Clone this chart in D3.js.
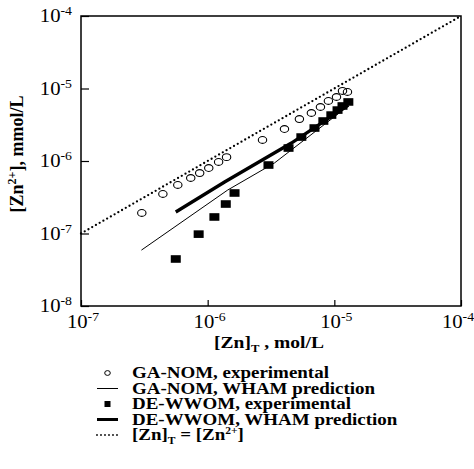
<!DOCTYPE html>
<html><head><meta charset="utf-8">
<script src="https://cdn.jsdelivr.net/npm/d3@7/dist/d3.min.js"></script>
<style>html,body{margin:0;padding:0;background:#fff}svg{display:block}</style>
</head><body>
<script>
// ---- data ----
const gaNomX = [3.02e-7, 4.43e-7, 5.81e-7, 7.35e-7, 8.65e-7, 1.02e-6, 1.22e-6, 1.41e-6, 2.71e-6, 4.04e-6, 5.30e-6, 6.59e-6, 7.77e-6, 8.98e-6, 1.04e-5, 1.16e-5, 1.27e-5];
const gaNomY = [1.92e-7, 3.51e-7, 4.67e-7, 5.83e-7, 6.82e-7, 8.0e-7, 9.7e-7, 1.13e-6, 1.95e-6, 2.76e-6, 3.79e-6, 4.59e-6, 5.56e-6, 6.73e-6, 7.64e-6, 9.25e-6, 8.96e-6];
const deWwomX = [5.60e-7, 8.49e-7, 1.13e-6, 1.39e-6, 1.63e-6, 3.02e-6, 4.35e-6, 5.49e-6, 6.97e-6, 8.19e-6, 9.47e-6, 1.06e-5, 1.16e-5, 1.29e-5];
const deWwomY = [4.45e-8, 9.8e-8, 1.69e-7, 2.55e-7, 3.62e-7, 8.8e-7, 1.51e-6, 2.14e-6, 2.85e-6, 3.56e-6, 4.30e-6, 5.04e-6, 5.74e-6, 6.52e-6];
const gaWhamX = [3.0e-7, 1.44e-6, 3.37e-6, 1.29e-5];
const gaWhamY = [5.9e-8, 3.98e-7, 9.4e-7, 5.74e-6];
const deWhamX = [5.6e-7, 1.36e-6, 4.58e-6, 1.29e-5];
const deWhamY = [1.98e-7, 5.13e-7, 1.77e-6, 5.9e-6];
const eqX = [1e-7, 1e-4];
const eqY = [1e-7, 1e-4];
const xTickExps = [-7, -6, -5, -4];
const yTickExps = [-8, -7, -6, -5, -4];
const legendLabels = ["GA-NOM, experimental", "GA-NOM, WHAM prediction", "DE-WWOM, experimental", "DE-WWOM, WHAM prediction"];

// ---- layout ----
const W = 474, H = 469;
const L = 81, T = 16, R = 461, B = 306;
const FONT = "'Liberation Serif','Times New Roman',serif";
const SX = 1.15; // horizontal stretch of the scanned figure's text

const svg = d3.select("body").append("svg").attr("width", W).attr("height", H);
const x = d3.scaleLog().domain([1e-7, 1e-4]).range([L, R]);
const y = d3.scaleLog().domain([1e-8, 1e-4]).range([B, T]);

// frame
svg.append("rect").attr("x", L).attr("y", T).attr("width", R - L).attr("height", B - T)
  .attr("fill", "none").attr("stroke", "#000").attr("stroke-width", 1.5);

// ticks
svg.append("g").attr("transform", `translate(0,${B})`)
  .call(d3.axisBottom(x).tickValues(xTickExps.map(e => Math.pow(10, e))).tickSize(-6).tickFormat(""))
  .call(g => { g.select(".domain").remove(); g.selectAll("line").attr("stroke", "#000").attr("stroke-width", 1.2); });
svg.append("g").attr("transform", `translate(${L},0)`)
  .call(d3.axisLeft(y).tickValues(yTickExps.map(e => Math.pow(10, e))).tickSize(-8).tickFormat(""))
  .call(g => { g.select(".domain").remove(); g.selectAll("line").attr("stroke", "#000").attr("stroke-width", 1.2); });

function powLabel(px, py, e, anchor) {
  const g = svg.append("g").attr("transform", `translate(${px},${py}) scale(${SX},1)`);
  const t = g.append("text").attr("font-family", FONT).attr("font-size", 18).attr("fill", "#000")
    .attr("text-anchor", anchor);
  t.append("tspan").text("10");
  t.append("tspan").attr("font-size", 12).attr("dy", -7).text(String(e));
}
xTickExps.forEach((e, i) => powLabel(x(Math.pow(10, e)) + (i === xTickExps.length - 1 ? -3 : 2), B + 22, e, "middle"));
yTickExps.forEach(e => powLabel(L - 9, y(Math.pow(10, e)) + 6, e, "end"));

// axis titles
{
  const g = svg.append("g").attr("transform", `translate(${(L + R) / 2 - 2},${B + 42}) scale(${SX},1)`);
  const t = g.append("text").attr("font-family", FONT).attr("font-size", 17).attr("font-weight", "bold")
    .attr("text-anchor", "middle");
  t.append("tspan").text("[Zn]");
  t.append("tspan").attr("font-size", 11).attr("dy", 4).text("T");
  t.append("tspan").attr("dy", -4).text(" , mol/L");
}
{
  const t = svg.append("text").attr("font-family", FONT).attr("font-size", 18).attr("font-weight", "bold")
    .attr("text-anchor", "middle").attr("transform", `translate(23,154) rotate(-90)`);
  t.append("tspan").text("[Zn");
  t.append("tspan").attr("font-size", 12).attr("dy", -7).text("2+");
  t.append("tspan").attr("dy", 7).text("], mmol/L");
}

// lines
const line = d3.line().x(d => x(d[0])).y(d => y(d[1]));
const zip = (a, b) => a.map((v, i) => [v, b[i]]);
svg.append("path").datum(zip(eqX, eqY)).attr("d", line).attr("fill", "none").attr("stroke", "#000")
  .attr("stroke-width", 2.3).attr("stroke-linecap", "round").attr("stroke-dasharray", "0,4.3");
svg.append("path").datum(zip(gaWhamX, gaWhamY)).attr("d", line).attr("fill", "none").attr("stroke", "#000")
  .attr("stroke-width", 1);
svg.append("path").datum(zip(deWhamX, deWhamY)).attr("d", line).attr("fill", "none").attr("stroke", "#000")
  .attr("stroke-width", 3.3);

// markers
svg.append("g").selectAll("ellipse").data(zip(gaNomX, gaNomY)).join("ellipse")
  .attr("cx", d => x(d[0])).attr("cy", d => y(d[1])).attr("rx", 4.2).attr("ry", 3.4)
  .attr("fill", "none").attr("stroke", "#000").attr("stroke-width", 1.1);
svg.append("g").selectAll("rect").data(zip(deWwomX, deWwomY)).join("rect")
  .attr("x", d => x(d[0]) - 5).attr("y", d => y(d[1]) - 3.8).attr("width", 10).attr("height", 7.6)
  .attr("fill", "#000");

// legend
const ly0 = 373, ldy = 15.5, lx0 = 97, lx1 = 118, ltx = 132;
function legText(i, build) {
  const g = svg.append("g").attr("transform", `translate(${ltx},${ly0 + i * ldy + 5}) scale(${SX},1)`);
  const t = g.append("text").attr("font-family", FONT).attr("font-size", 16.5).attr("font-weight", "bold")
    .attr("fill", "#000");
  build(t);
}
svg.append("ellipse").attr("cx", (lx0 + lx1) / 2).attr("cy", ly0).attr("rx", 2.8).attr("ry", 2.4)
  .attr("fill", "none").attr("stroke", "#000").attr("stroke-width", 1);
svg.append("line").attr("x1", lx0).attr("x2", lx1).attr("y1", ly0 + ldy).attr("y2", ly0 + ldy)
  .attr("stroke", "#000").attr("stroke-width", 1);
svg.append("rect").attr("x", (lx0 + lx1) / 2 - 3).attr("y", ly0 + 2 * ldy - 3).attr("width", 6).attr("height", 6)
  .attr("fill", "#000");
svg.append("line").attr("x1", lx0).attr("x2", lx1).attr("y1", ly0 + 3 * ldy).attr("y2", ly0 + 3 * ldy)
  .attr("stroke", "#000").attr("stroke-width", 3);
svg.append("line").attr("x1", lx0).attr("x2", lx1).attr("y1", ly0 + 4 * ldy).attr("y2", ly0 + 4 * ldy)
  .attr("stroke", "#000").attr("stroke-width", 1.8).attr("stroke-linecap", "round").attr("stroke-dasharray", "0,4");
legendLabels.forEach((s, i) => legText(i, t => t.text(s)));
legText(4, t => {
  t.append("tspan").text("[Zn]");
  t.append("tspan").attr("font-size", 10).attr("dy", 4).text("T");
  t.append("tspan").attr("dy", -4).text(" = [Zn");
  t.append("tspan").attr("font-size", 10).attr("dy", -6).text("2+");
  t.append("tspan").attr("dy", 6).text("]");
});
</script>
</body></html>
